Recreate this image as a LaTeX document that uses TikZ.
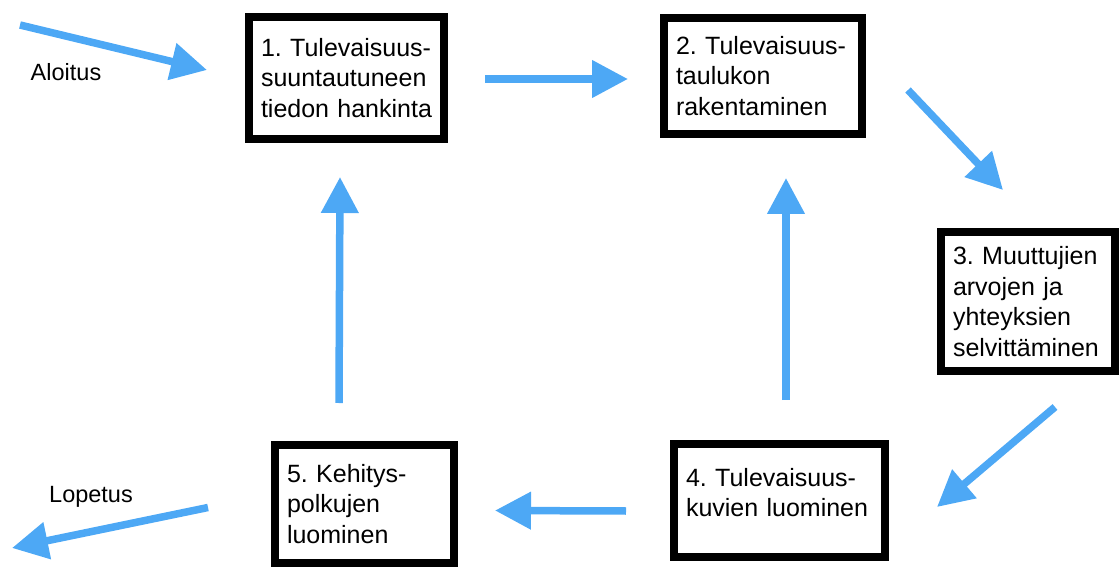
\documentclass[tikz,border=0pt]{standalone}
\usepackage{fontspec}
\setmainfont{Liberation Sans}
\usetikzlibrary{arrows.meta}
\definecolor{sininen}{RGB}{77,168,245}
\frenchspacing

\begin{document}
\begin{tikzpicture}[x=0.5pt,y=-0.5pt,
    vaihe/.style={draw=black, line width=4pt, fill=white, rectangle, align=left,
      inner xsep=6pt, inner ysep=0pt, outer sep=0pt,
      font=\fontsize{12.5}{15.25}\selectfont},
    nuoli/.style={draw=sininen, line width=3.75pt, -{Triangle[length=18pt,width=18pt]}},
    merkki/.style={font=\fontsize{11.75}{14}\selectfont}]
      \useasboundingbox (0,0) rectangle (1120,567);

      \node[vaihe, text width=85.5pt, minimum height=61pt] (v1) at (346.5,78) {1. Tulevaisuus-\\suuntautuneen\\tiedon hankinta};
      \node[vaihe, text width=87pt, minimum height=58pt] (v2) at (763,76) {2. Tulevaisuus-\\taulukon\\rakentaminen};
      \node[vaihe, text width=75pt, minimum height=69.5pt] (v3) at (1028,301.5) {3. Muuttujien\\arvojen ja\\yhteyksien\\selvittäminen};
      \node[vaihe, text width=93.5pt, minimum height=56.5pt] (v4) at (779.5,500.5) {4. Tulevaisuus-\\kuvien luominen\\[-7pt]\mbox{}};
      \node[vaihe, text width=77.5pt, minimum height=59pt] (v5) at (364.5,504) {5. Kehitys-\\polkujen\\luominen};

      \node[merkki] (aloitus) at (66,72) {Aloitus};
      \node[merkki] (lopetus) at (91,497) {Lopetus};
      \coordinate (alku) at (20,25);
      \coordinate (loppu) at (12,548);

      \draw[nuoli] (alku) -- ([shift={(-42,-8)}]v1.west);
      \draw[nuoli] ([shift={(41,1)}]v1.east) -- ([shift={(-36,3)}]v2.west);
      \draw[nuoli] ([shift={(46,14)}]v2.east) -- ([shift={(-25,-42)}]v3.north);
      \draw[nuoli] ([shift={(27,36)}]v3.south) -- ([shift={(52,6.5)}]v4.east);
      \draw[nuoli] ([shift={(6.5,-44)}]v4.north) -- ([shift={(23,44)}]v2.south);
      \draw[nuoli] ([shift={(-48,10.5)}]v4.west) -- ([shift={(41,6.5)}]v5.east);
      \draw[nuoli] ([shift={(-25.5,-42)}]v5.north) -- ([shift={(-6.5,38)}]v1.south);
      \draw[nuoli] ([shift={(-67,3.5)}]v5.west) -- (loppu);
    \end{tikzpicture}
\end{document}
